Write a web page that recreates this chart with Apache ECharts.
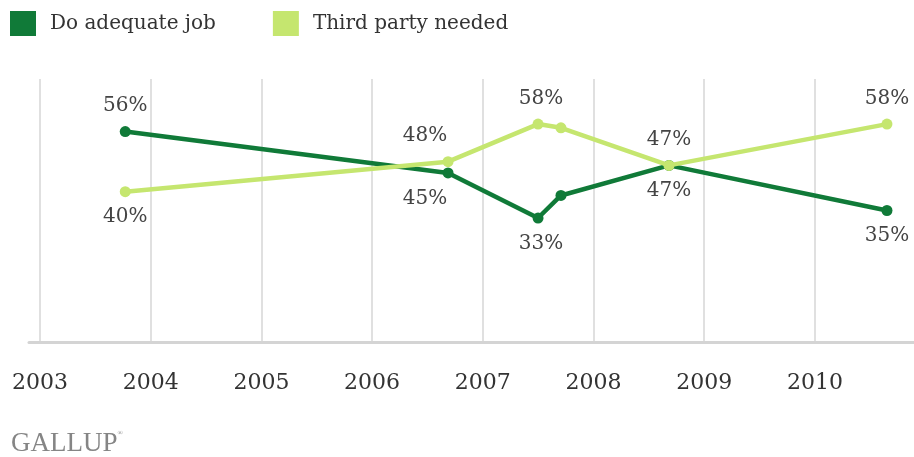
<!DOCTYPE html>
<html>
<head>
<meta charset="utf-8">
<script src="https://cdn.jsdelivr.net/npm/echarts@6/dist/echarts.min.js"></script>
<style>
html,body{margin:0;padding:0;background:#fff;}
#chart{width:914px;height:457px;}
</style>
</head>
<body>
<div id="chart"></div>
<script>
// Survey dates as decimal years
const surveyDates = [2003.77, 2006.686, 2007.499, 2007.706, 2008.682, 2010.651];
const adequateJob = [56, 45, 33, 39, 47, 35];
const thirdPartyNeeded = [40, 48, 58, 57, 47, 58];
const tickYears = [2003, 2004, 2005, 2006, 2007, 2008, 2009, 2010];
const seriesNames = ['Do adequate job', 'Third party needed'];

// label placement (style, kept separate from data)
const adequateLabelPos = ['top', 'bottom', 'bottom', null, 'bottom', 'bottom'];
const thirdLabelPos = ['bottom', 'top', 'top', null, 'top', 'top'];
const labelOffsets = [[0,0], [-23,0], [3,0], [0,0], [0,0], [0,0]];

const serif = 'DejaVu Serif';
const DARK = '#107a38';
const LIGHT = '#c5e66f';

function buildData(values, positions) {
  return values.map((v, i) => {
    const item = { value: [surveyDates[i], v] };
    if (positions[i]) {
      item.label = { show: true, position: positions[i], offset: labelOffsets[i] };
    } else {
      item.label = { show: false };
    }
    return item;
  });
}

const chart = echarts.init(document.getElementById('chart'));
chart.setOption({
  animation: false,
  backgroundColor: '#fff',
  title: {
    text: 'GALLUP{r|®}',
    left: 6,
    top: 425,
    textStyle: {
      fontFamily: 'Liberation Serif',
      fontSize: 27,
      fontWeight: 'normal',
      color: '#858585',
      rich: { r: { fontSize: 7, color: '#858585', verticalAlign: 'top', padding: [0,0,14,0] } }
    }
  },
  legend: {
    left: 10,
    top: 11,
    padding: 0,
    icon: 'rect',
    itemWidth: 26,
    itemHeight: 25,
    itemGap: 57,
    data: seriesNames,
    textStyle: { fontFamily: serif, fontSize: 20, color: '#333', padding: [0,0,0,9] }
  },
  grid: { left: 29, right: 0, top: 79, bottom: 115, containLabel: false },
  xAxis: {
    type: 'value',
    min: 2003 - 11 / 110.7,
    max: 2003 + 874 / 110.7,
    splitNumber: 8,
    minInterval: 1,
    maxInterval: 1,
    axisLine: { show: true, lineStyle: { color: '#d4d4d4', width: 3 } },
    axisTick: { show: false },
    axisLabel: {
      margin: 30,
      fontFamily: serif,
      fontSize: 22,
      color: '#333',
      showMinLabel: false,
      showMaxLabel: false,
      formatter: v => (tickYears.indexOf(Math.round(v)) >= 0 && Math.abs(v - Math.round(v)) < 1e-6) ? String(Math.round(v)) : ''
    },
    splitLine: { show: true, showMinLine: false, showMaxLine: false, lineStyle: { color: '#d6d6d6', width: 1.5 } }
  },
  yAxis: {
    type: 'value',
    min: 0,
    max: 70,
    show: false,
    splitLine: { show: false }
  },
  series: [
    {
      name: seriesNames[0],
      type: 'line',
      data: buildData(adequateJob, adequateLabelPos),
      color: DARK,
      lineStyle: { color: DARK, width: 4.5 },
      itemStyle: { color: DARK },
      symbol: 'circle',
      symbolSize: 11,
      label: { fontFamily: serif, fontSize: 20, color: '#444', distance: 10, formatter: p => p.value[1] + '%' },
      z: 2
    },
    {
      name: seriesNames[1],
      type: 'line',
      data: buildData(thirdPartyNeeded, thirdLabelPos),
      color: LIGHT,
      lineStyle: { color: LIGHT, width: 4.5 },
      itemStyle: { color: LIGHT },
      symbol: 'circle',
      symbolSize: 11,
      label: { fontFamily: serif, fontSize: 20, color: '#444', distance: 10, formatter: p => p.value[1] + '%' },
      z: 3
    }
  ]
});
</script>
</body>
</html>
